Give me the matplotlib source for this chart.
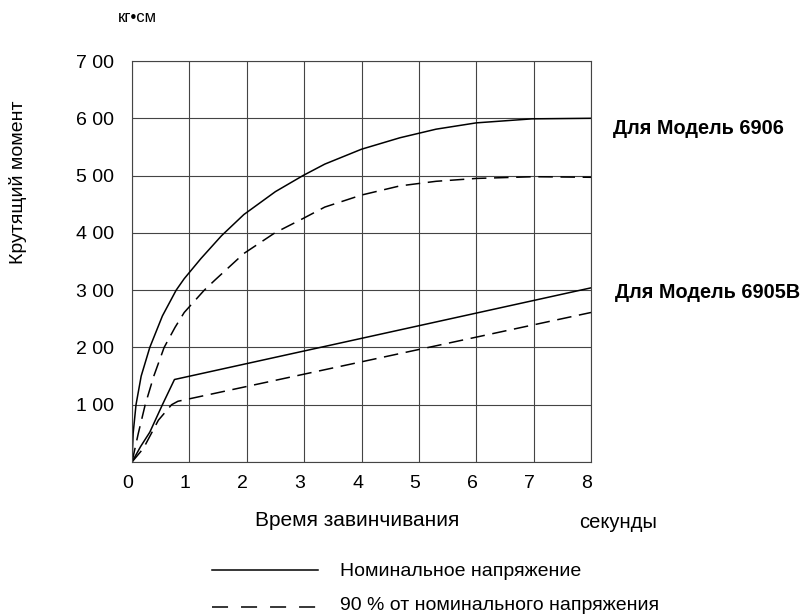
import matplotlib
matplotlib.use("Agg")
import matplotlib.pyplot as plt
from matplotlib.lines import Line2D
from matplotlib.transforms import ScaledTranslation

plt.rcParams['font.family'] = ['Liberation Sans', 'DejaVu Sans']

# Модель 6906, номинальное напряжение
x_6906_nom = [0, 0.02, 0.07, 0.16, 0.31, 0.53, 0.77, 0.91, 1.2, 1.56, 1.95,
              2.5, 2.98, 3.36, 4.0, 4.67, 5.3, 6.0, 6.97, 8.0]
y_6906_nom = [0, 50, 100, 150, 200, 255, 300, 320, 355, 395, 432,
              472, 500, 520, 546, 566, 581, 592, 599, 600]

# Модель 6906, 90 %
x_6906_90 = [0, 0.11, 0.23, 0.38, 0.56, 0.75, 0.91, 1.26, 1.45, 1.95, 2.49, 2.98,
             3.36, 4.0, 4.67, 5.3, 6.0, 7.0, 8.0]
y_6906_90 = [0, 50, 100, 150, 200, 235, 261, 300, 318, 364, 400, 425,
             445, 466, 482, 490, 495, 498, 497]

# Модель 6905B, номинальное напряжение
x_6905_nom = [0, 0.15, 0.31, 0.53, 0.74, 8.0]
y_6905_nom = [0, 27, 52, 100, 144, 304]

# Модель 6905B, 90 %
x_6905_90 = [0, 0.2, 0.46, 0.69, 0.8, 8.0]
y_6905_90 = [0, 24, 73, 100, 106, 261]

x_ticks = [0, 1, 2, 3, 4, 5, 6, 7, 8]
y_ticks = [0, 100, 200, 300, 400, 500, 600, 700]
y_labels = ['', '1 00', '2 00', '3 00', '4 00', '5 00', '6 00', '7 00']

W, H = 805, 614


def fx(px):
    return px / W


def fy(py):
    return 1 - py / H


fig = plt.figure(figsize=(W / 100, H / 100), dpi=100)
ax = fig.add_axes([fx(132), fy(462), (591 - 132) / W, (462 - 61) / H])

dash = (0, (9.5, 5))
ax.plot(x_6906_nom, y_6906_nom, color='black', lw=1.1)
ax.plot(x_6906_90, y_6906_90, color='black', lw=1.1, ls=dash)
ax.plot(x_6905_nom, y_6905_nom, color='black', lw=1.1)
ax.plot(x_6905_90, y_6905_90, color='black', lw=1.1, ls=dash)

ax.set_xlim(0, 8)
ax.set_ylim(0, 700)
ax.set_xticks(x_ticks)
ax.set_xticklabels([str(t) for t in x_ticks])
ax.set_yticks(y_ticks)
ax.set_yticklabels(y_labels)
ax.tick_params(length=0, labelsize=14)
ax.tick_params(axis='y', pad=13)
ax.tick_params(axis='x', pad=9)
# подписи по оси x в оригинале чуть левее линий сетки
shift = ScaledTranslation(-4 / 100, 0, fig.dpi_scale_trans)
for lab in ax.get_xticklabels():
    lab.set_transform(lab.get_transform() + shift)
ax.grid(True, color='#444444', lw=0.8)
ax.set_axisbelow(True)
for s in ax.spines.values():
    s.set_color('#444444')
    s.set_linewidth(0.8)

fig.text(fx(137), fy(17), 'кг•см', ha='center', va='center', fontsize=12)
fig.text(fx(18), fy(182), 'Крутящий момент', rotation=90, ha='center', va='center', fontsize=14)
fig.text(fx(357), fy(520), 'Время завинчивания', ha='center', va='center', fontsize=15)
fig.text(fx(618), fy(522), 'секунды', ha='center', va='center', fontsize=14.5)
fig.text(fx(613), fy(128), 'Для Модель 6906', ha='left', va='center', fontsize=14.3, fontweight='bold')
fig.text(fx(615), fy(293), 'Для Модель 6905B', ha='left', va='center', fontsize=14.3, fontweight='bold')

# легенда
fig.add_artist(Line2D([fx(212), fx(318)], [fy(570), fy(570)], color='black', lw=1.1,
                      transform=fig.transFigure))
fig.add_artist(Line2D([fx(212), fx(318)], [fy(607), fy(607)], color='black', lw=1.1,
                      ls=(0, (10.5, 8.5)), transform=fig.transFigure))
fig.text(fx(340), fy(571), 'Номинальное напряжение', ha='left', va='center', fontsize=14)
fig.text(fx(340), fy(606), '90 % от номинального напряжения', ha='left', va='center', fontsize=14)

fig.savefig('out.png', dpi=100)
